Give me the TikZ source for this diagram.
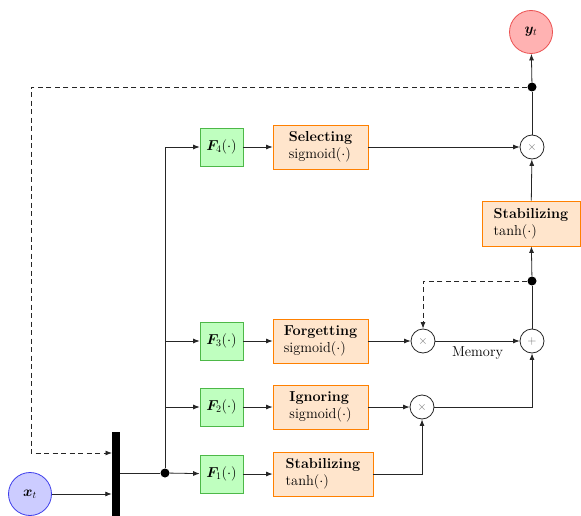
\documentclass[tikz,border=0pt]{standalone}
\usepackage{bm}
\usetikzlibrary{arrows.meta}
\definecolor{fborder}{RGB}{77,184,72}
\definecolor{inblue}{RGB}{60,60,235}
\definecolor{outred}{RGB}{235,80,80}
\newcommand{\gatetext}[2]{\begin{tabular}{@{}l@{}}\textbf{#1}\\#2\end{tabular}}
\begin{document}
\begin{tikzpicture}[x=1pt,y=-1pt,
  font=\fontsize{14.4}{17}\selectfont,
  line/.style={draw=black!85, line width=0.8pt},
  tip/.style={-{Latex[length=6.5pt,width=5pt]}},
  arr/.style={line, tip},
  dashline/.style={line, dash pattern=on 5pt off 3.5pt},
  fbox/.style={draw=fborder, fill=green!25, line width=0.7pt, minimum width=43pt, minimum height=38pt, inner sep=0pt},
  gate/.style={draw=orange, fill=orange!20, line width=0.8pt, minimum height=44pt, minimum width=95pt, inner xsep=10pt, inner ysep=0pt},
  op/.style={circle, draw=black!85, fill=white, line width=0.8pt, minimum size=24pt, inner sep=0pt, text=black!55, font=\fontsize{12}{12}\selectfont},
  junc/.style={circle, fill=black, inner sep=0pt, minimum size=9pt},
  io/.style={circle, line width=0.8pt, minimum size=43pt, inner sep=0pt}
]
\useasboundingbox (0,0) rectangle (581,516);

% input, concatenation bar and output
\node[io, draw=inblue, fill=blue!20] (xt) at (30,494) {$\bm{x}_t$};
\node[fill=black, minimum width=8pt, minimum height=86pt, inner sep=0pt] (bar) at (116,475) {};
\node[io, draw=outred, fill=red!30] (yt) at (531,32) {$\bm{y}_t$};

% layer blocks
\node[fbox] (f4) at (221.5,147) {$\bm{F}_4(\cdot)$};
\node[fbox] (f3) at (221.5,341) {$\bm{F}_3(\cdot)$};
\node[fbox] (f2) at (221.5,407) {$\bm{F}_2(\cdot)$};
\node[fbox] (f1) at (221.5,474) {$\bm{F}_1(\cdot)$};

% gates
\node[gate] (g4) at (320.5,147) {\gatetext{Selecting}{sigmoid$(\cdot)$}};
\node[gate] (g3) at (320.5,341) {\gatetext{Forgetting}{sigmoid$(\cdot)$}};
\node[gate] (g2) at (320.5,407) {\gatetext{Ignoring}{sigmoid$(\cdot)$}};
\node[gate, minimum width=100pt] (g1) at (323,474) {\gatetext{Stabilizing}{tanh$(\cdot)$}};
\node[gate, minimum width=98pt, minimum height=45pt] (s2) at (531,223.5) {\gatetext{Stabilizing}{tanh$(\cdot)$}};

% element-wise operations
\node[op] (m4) at (532,147) {$\times$};
\node[op] (m3) at (423,341) {$\times$};
\node[op] (m2) at (422,407) {$\times$};
\node[op] (pl) at (532,341) {$+$};

% junctions
\node[junc] (j0) at (165,473) {};
\node[junc] (jm) at (532,281) {};
\node[junc] (jo) at (532,87) {};
\coordinate (fbcorner) at (31,87);
\coordinate (fbin) at (112,453);

% input side
\draw[arr] (xt) -- (xt -| bar.west);
\draw[dashline, tip] (jo) -- (fbcorner) |- (fbin);
\draw[line] (bar.east |- j0) -- (j0);
\draw[line] (j0) -- (j0 |- f4);
\draw[arr] (j0) -- (f1);
\draw[arr] (j0 |- f2) -- (f2);
\draw[arr] (j0 |- f3) -- (f3);
\draw[arr] (j0 |- f4) -- (f4);

% layers to gates
\draw[arr] (f4) -- (g4);
\draw[arr] (f3) -- (g3);
\draw[arr] (f2) -- (g2);
\draw[arr] (f1) -- (g1);

% memory path
\draw[arr] (g1) -| (m2);
\draw[arr] (g2) -- (m2);
\draw[arr] (m2) -| (pl);
\draw[arr] (g3) -- (m3);
\draw[arr] (m3) -- node[below=2pt, text=black] {Memory} (pl);
\draw[line] (pl) -- (jm);
\draw[dashline, tip] (jm) -| (m3);

% output path
\draw[arr] (jm) -- (s2);
\draw[arr] (s2) -- (m4);
\draw[arr] (g4) -- (m4);
\draw[line] (m4) -- (jo);
\draw[arr] (jo) -- (yt);
\end{tikzpicture}
\end{document}
